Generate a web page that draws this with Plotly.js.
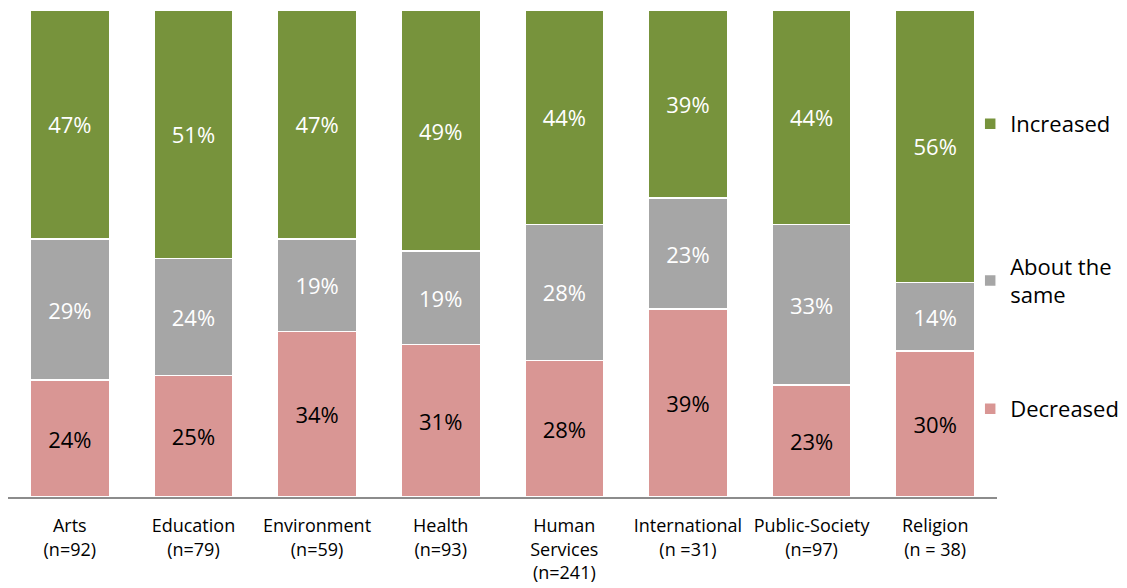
<!DOCTYPE html>
<html>
<head>
<meta charset="utf-8">
<script src="https://cdn.plot.ly/plotly-3.0.1.min.js"></script>
<style>html,body{margin:0;padding:0;background:#fff;}#chart{width:1127px;height:588px;}</style>
</head>
<body>
<div id="chart"></div>
<script>
const categories = ["Arts<br>(n=92)", "Education<br>(n=79)", "Environment<br>(n=59)", "Health<br>(n=93)", "Human<br>Services<br>(n=241)", "International<br>(n =31)", "Public-Society<br>(n=97)", "Religion<br>(n = 38)"];
const decreased = [24, 25, 34, 31, 28, 39, 23, 30];
const aboutSame = [29, 24, 19, 19, 28, 23, 33, 14];
const increased = [47, 51, 47, 49, 44, 39, 44, 56];
const seriesNames = ["Decreased", "About the<br>same", "Increased"];
const colors = ["#D99694", "#A6A6A6", "#77933C"];
const textColors = ["#000000", "#ffffff", "#ffffff"];

const FONT = "'Open Sans', 'Noto Sans', sans-serif";
const series = [decreased, aboutSame, increased];
const legends = ["legend3", "legend2", "legend"];
const traces = series.map((vals, i) => ({
  type: "bar",
  name: seriesNames[i],
  x: categories,
  y: vals,
  text: vals.map(v => v + "%"),
  texttemplate: "%{text}",
  textposition: "inside",
  insidetextanchor: "middle",
  textangle: 0,
  constraintext: "none",
  textfont: {family: FONT, size: 22, color: textColors[i]},
  marker: {color: colors[i], line: {color: "#ffffff", width: 1.5}},
  legend: legends[i],
  hoverinfo: "skip"
}));

const legendBase = {xanchor: "left", yanchor: "middle", bgcolor: "rgba(0,0,0,0)", font: {family: FONT, size: 22, color: "#000"}, itemwidth: 30};
const LX = 0.9729;
const layout = {
  width: 1127, height: 588,
  margin: {l: 8, r: 130, t: 10, b: 91, autoexpand: false},
  paper_bgcolor: "#ffffff", plot_bgcolor: "#ffffff",
  barmode: "stack",
  barnorm: "percent",
  bargap: 0.36,
  showlegend: true,
  legend: Object.assign({}, legendBase, {x: LX, y: (497 - 124) / 487}),
  legend2: Object.assign({}, legendBase, {x: LX, y: (497 - 281) / 487}),
  legend3: Object.assign({}, legendBase, {x: LX, y: (497 - 409) / 487}),
  xaxis: {
    showline: true, linecolor: "#8c8c8c", linewidth: 1.5,
    showgrid: false, zeroline: false, ticks: "",
    ticklabelstandoff: 12,
    tickfont: {family: FONT, size: 18, color: "#000"},
    fixedrange: true, automargin: false
  },
  yaxis: {range: [0, 100], visible: false, showgrid: false, zeroline: false, fixedrange: true},
  font: {family: FONT}
};
Plotly.newPlot("chart", traces, layout, {displayModeBar: false, staticPlot: true});
</script>
</body>
</html>
